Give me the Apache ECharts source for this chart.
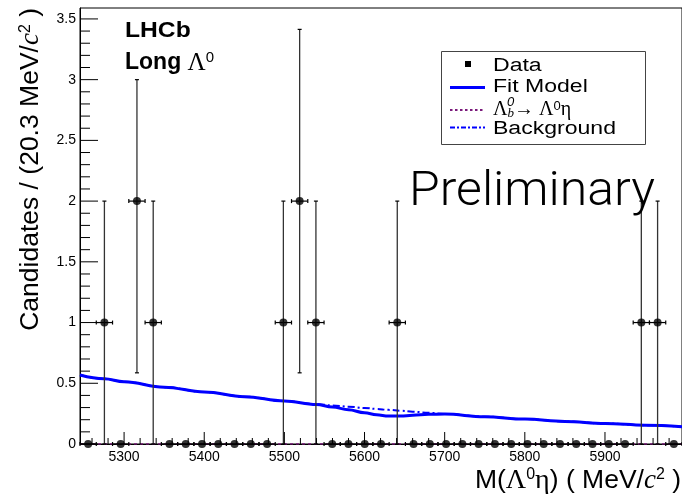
<!DOCTYPE html>
<html>
<head>
<meta charset="utf-8">
<script src="https://cdn.jsdelivr.net/npm/echarts@6/dist/echarts.min.js"></script>
<style>
  html, body { margin: 0; padding: 0; background: #fff; }
  #chart { width: 682px; height: 497px; }
</style>
</head>
<body>
<div id="chart"></div>
<script>
// Histogram of M(Λ0η): bin centres (MeV/c2), 20.3 MeV/c2 bins from 5245
const binCenters = [
  5255.15, 5275.45, 5295.75, 5316.05, 5336.35, 5356.65, 5376.95, 5397.25,
  5417.55, 5437.85, 5458.15, 5478.45, 5498.75, 5519.05, 5539.35, 5559.65,
  5579.95, 5600.25, 5620.55, 5640.85, 5661.15, 5681.45, 5701.75, 5722.05,
  5742.35, 5762.65, 5782.95, 5803.25, 5823.55, 5843.85, 5864.15, 5884.45,
  5904.75, 5925.05, 5945.35, 5965.65, 5985.95
];
const binHalfWidth = 10.15;
const counts = [
  0, 1, 0, 2, 1, 0, 0, 0, 0, 0, 0, 0, 1, 2, 1, 0, 0, 0, 0, 1,
  0, 0, 0, 0, 0, 0, 0, 0, 0, 0, 0, 0, 0, 0, 1, 1, 0
];
const errLow = [
  0, 1, 0, 1.414, 1, 0, 0, 0, 0, 0, 0, 0, 1, 1.414, 1, 0, 0, 0, 0, 1,
  0, 0, 0, 0, 0, 0, 0, 0, 0, 0, 0, 0, 0, 0, 1, 1, 0
];
const errHigh = [
  0, 1, 0, 1, 1, 0, 0, 0, 0, 0, 0, 0, 1, 1.414, 1, 0, 0, 0, 0, 1,
  0, 0, 0, 0, 0, 0, 0, 0, 0, 0, 0, 0, 0, 0, 1, 1, 0
];

// Fit components sampled along the mass axis
const curveMass = [5245, 5275, 5300, 5350, 5400, 5450, 5500, 5540, 5560, 5580, 5600, 5615,
                   5630, 5645, 5660, 5680, 5700, 5750, 5800, 5850, 5900, 5950, 5996];
// Total fit model
const fitModel  = [0.568, 0.537, 0.513, 0.468, 0.428, 0.390, 0.354, 0.325, 0.305, 0.282, 0.258, 0.240,
                   0.231, 0.230, 0.236, 0.244, 0.246, 0.225, 0.205, 0.186, 0.169, 0.155, 0.143];
// Combinatorial background component
const bkgValues = [0.568, 0.537, 0.513, 0.468, 0.428, 0.390, 0.354, 0.328, 0.318, 0.307, 0.297, 0.289,
                   0.281, 0.274, 0.266, 0.257, 0.248, 0.225, 0.205, 0.186, 0.169, 0.155, 0.143];
// Λb0 → Λ0η signal component
const sigMass   = [5245, 5996];
const sigValues = [0, 0];

// Axis ranges and ticks
const massRange  = [5245, 5996.1];
const massTicks  = [5300, 5400, 5500, 5600, 5700, 5800, 5900];
const countRange = [0, 3.59];
const countTicks = [0, 0.5, 1, 1.5, 2, 2.5, 3, 3.5];

const massMinor = [];
for (let m = 5260; m < massRange[1]; m += 20) {
  if (m % 100 !== 0) massMinor.push(m);
}
const countMinor = [];
for (let k = 1; k * 0.1 < countRange[1]; k++) {
  if (k % 5 !== 0) countMinor.push(+(k * 0.1).toFixed(2));
}
// [value, axis (0 = mass, 1 = counts), tick length in px]
const tickMarks = []
  .concat(massTicks.map(v => [v, 0, 12]))
  .concat(massMinor.map(v => [v, 0, 6]))
  .concat(countTicks.map(v => [v, 1, 18]))
  .concat(countMinor.map(v => [v, 1, 10]));

const pair = (xs, ys) => xs.map((x, i) => [x, ys[i]]);
const SANS = '"Liberation Sans", Arial, Helvetica, sans-serif';
const SERIF = '"Liberation Serif", "Times New Roman", serif';

const chart = echarts.init(document.getElementById('chart'), null, { renderer: 'canvas' });

chart.setOption({
  animation: false,
  backgroundColor: '#fff',
  grid: {
    left: 80, top: 8, width: 604, height: 436,
    show: true, borderColor: '#000', borderWidth: 1, backgroundColor: 'transparent'
  },
  xAxis: {
    type: 'value',
    min: massRange[0], max: massRange[1],
    splitLine: { show: false },
    axisLine: { show: true, onZero: false, lineStyle: { color: '#000', width: 1 } },
    axisTick: { show: false },
    axisLabel: { show: true, customValues: massTicks, margin: 6,
                 formatter: v => String(v),
                 fontFamily: SANS, fontSize: 14, color: '#000' }
  },
  yAxis: {
    type: 'value',
    min: countRange[0], max: countRange[1],
    splitLine: { show: false },
    axisLine: { show: true, onZero: false, lineStyle: { color: '#000', width: 1 } },
    axisTick: { show: false },
    axisLabel: { show: true, customValues: countTicks, margin: 4,
                 formatter: v => String(v),
                 fontFamily: SANS, fontSize: 14, color: '#000' }
  },
  series: [
    {
      name: 'Background',
      type: 'line',
      data: pair(curveMass, bkgValues),
      smooth: 0.4, smoothMonotone: 'x',
      symbol: 'none',
      lineStyle: { color: '#0000ff', width: 2, type: [7, 3, 2, 3] },
      z: 2
    },
    {
      name: 'Fit Model',
      type: 'line',
      data: pair(curveMass, fitModel),
      smooth: 0.4, smoothMonotone: 'x',
      symbol: 'none',
      lineStyle: { color: '#0000ff', width: 3 },
      z: 3
    },
    {
      name: 'Signal',
      type: 'line',
      data: pair(sigMass, sigValues),
      symbol: 'none',
      lineStyle: { color: '#7b1a7b', width: 1.5, type: [3, 3] },
      z: 4
    },
    {
      name: 'Axis ticks',
      type: 'custom',
      silent: true,
      data: tickMarks,
      z: 8,
      renderItem: function (params, api) {
        const v = api.value(0), axis = api.value(1), len = api.value(2);
        const style = { stroke: '#000', lineWidth: 1 };
        if (axis === 0) {
          const p = api.coord([v, countRange[0]]);
          return { type: 'line', shape: { x1: p[0], y1: p[1], x2: p[0], y2: p[1] - len }, style: style };
        }
        const p = api.coord([massRange[0], v]);
        return { type: 'line', shape: { x1: p[0], y1: p[1], x2: p[0] + len, y2: p[1] }, style: style };
      }
    },
    {
      name: 'Data errors',
      type: 'custom',
      data: binCenters.map((x, i) => [x, counts[i], errLow[i], errHigh[i]]),
      z: 5,
      renderItem: function (params, api) {
        const x = api.value(0), y = api.value(1), lo = api.value(2), hi = api.value(3);
        const c = api.coord([x, y]);
        const l = api.coord([x - binHalfWidth, y]);
        const r = api.coord([x + binHalfWidth, y]);
        const hStyle = { stroke: '#000', lineWidth: 1.2 };
        const vStyle = { stroke: '#333', lineWidth: 1.3 };
        const kids = [
          { type: 'line', shape: { x1: l[0], y1: c[1], x2: r[0], y2: c[1] }, style: hStyle },
          { type: 'line', shape: { x1: l[0], y1: c[1] - 2, x2: l[0], y2: c[1] + 2 }, style: hStyle },
          { type: 'line', shape: { x1: r[0], y1: c[1] - 2, x2: r[0], y2: c[1] + 2 }, style: hStyle }
        ];
        if (hi > 0) {
          const t = api.coord([x, y + hi]);
          kids.push({ type: 'line', shape: { x1: c[0], y1: c[1], x2: t[0], y2: t[1] }, style: vStyle });
          kids.push({ type: 'line', shape: { x1: c[0] - 2, y1: t[1], x2: c[0] + 2, y2: t[1] }, style: hStyle });
        }
        if (lo > 0) {
          const b = api.coord([x, y - lo]);
          kids.push({ type: 'line', shape: { x1: c[0], y1: c[1], x2: b[0], y2: b[1] }, style: vStyle });
          kids.push({ type: 'line', shape: { x1: c[0] - 2, y1: b[1], x2: c[0] + 2, y2: b[1] }, style: hStyle });
        }
        return { type: 'group', children: kids };
      }
    },
    {
      name: 'Data',
      type: 'scatter',
      data: pair(binCenters, counts),
      symbol: 'circle',
      symbolSize: 8,
      itemStyle: { color: '#000' },
      z: 6
    }
  ],
  graphic: [
    // Experiment label
    {
      type: 'text', x: 125, y: 31, scaleX: 1.12, z: 10,
      style: { text: 'LHCb', font: 'bold 22px ' + SANS, fill: '#000',
               textVerticalAlign: 'middle', verticalAlign: 'middle' }
    },
    {
      type: 'text', x: 125, y: 63, z: 10,
      style: {
        text: '{b|Long }{g|Λ}{s|0}',
        textVerticalAlign: 'middle', verticalAlign: 'middle',
        rich: {
          b: { fontFamily: SANS, fontWeight: 'bold', fontSize: 23, fill: '#000' },
          g: { fontFamily: SERIF, fontSize: 25, fill: '#000' },
          s: { fontFamily: SANS, fontSize: 15, fill: '#000', verticalAlign: 'top' }
        }
      }
    },
    // Preliminary stamp
    {
      type: 'text', x: 409, y: 193, scaleX: 1.04, z: 10,
      style: { text: 'Preliminary', fontFamily: 'Roboto, ' + SANS, fontWeight: 300, fontSize: 48,
               fill: '#000', textVerticalAlign: 'middle', verticalAlign: 'middle' }
    },
    // Legend
    {
      type: 'rect', z: 10,
      shape: { x: 441.5, y: 51.5, width: 204, height: 93 },
      style: { fill: '#fff', stroke: '#444', lineWidth: 1 }
    },
    {
      type: 'rect', z: 11,
      shape: { x: 465, y: 61, width: 6, height: 6 },
      style: { fill: '#000' }
    },
    {
      type: 'line', z: 11,
      shape: { x1: 450, y1: 87.5, x2: 485, y2: 87.5 },
      style: { stroke: '#0000ff', lineWidth: 3 }
    },
    {
      type: 'line', z: 11,
      shape: { x1: 450, y1: 110, x2: 485, y2: 110 },
      style: { stroke: '#7b1a7b', lineWidth: 2, lineDash: [2.5, 2.5] }
    },
    {
      type: 'line', z: 11,
      shape: { x1: 450, y1: 127.5, x2: 485, y2: 127.5 },
      style: { stroke: '#0000ff', lineWidth: 2, lineDash: [5, 2, 2, 2] }
    },
    {
      type: 'text', x: 493, y: 66, scaleX: 1.28, z: 11,
      style: { text: 'Data', font: '18px ' + SANS, fill: '#000',
               textVerticalAlign: 'middle', verticalAlign: 'middle' }
    },
    {
      type: 'text', x: 493, y: 87, scaleX: 1.28, z: 11,
      style: { text: 'Fit Model', font: '18px ' + SANS, fill: '#000',
               textVerticalAlign: 'middle', verticalAlign: 'middle' }
    },
    {
      type: 'text', x: 493, y: 110, z: 11,
      style: {
        text: '{g|Λ}{sub|b}{g|→ Λ}{sup|0}{g|η}',
        textVerticalAlign: 'middle', verticalAlign: 'middle',
        rich: {
          g: { fontFamily: SERIF, fontSize: 20, fill: '#000' },
          sub: { fontFamily: SERIF, fontStyle: 'italic', fontSize: 13, fill: '#000', verticalAlign: 'bottom' },
          sup: { fontFamily: SANS, fontSize: 13, fill: '#000', verticalAlign: 'top' }
        }
      }
    },
    {
      type: 'text', x: 507, y: 102, z: 11,
      style: { text: '0', fontFamily: SANS, fontStyle: 'italic', fontSize: 13, fill: '#000',
               textVerticalAlign: 'middle', verticalAlign: 'middle' }
    },
    {
      type: 'text', x: 493, y: 129, scaleX: 1.28, z: 11,
      style: { text: 'Background', font: '18px ' + SANS, fill: '#000',
               textVerticalAlign: 'middle', verticalAlign: 'middle' }
    },
    // Axis titles
    {
      type: 'text', x: 31, y: 8, rotation: Math.PI / 2, z: 10,
      style: {
        text: '{t|Candidates / (20.3 MeV/}{i|c}{s|2}{t| )}',
        textAlign: 'right', align: 'right',
        textVerticalAlign: 'middle', verticalAlign: 'middle',
        rich: {
          t: { fontFamily: SANS, fontSize: 26.5, fill: '#000' },
          i: { fontFamily: SERIF, fontStyle: 'italic', fontSize: 27, fill: '#000' },
          s: { fontFamily: SANS, fontSize: 16, fill: '#000', verticalAlign: 'top' }
        }
      }
    },
    {
      type: 'text', x: 681, y: 481, z: 10,
      style: {
        text: '{t|M(}{g|Λ}{s|0}{g|η}{t|) ( MeV/}{i|c}{s|2}{t| )}',
        textAlign: 'right', align: 'right',
        textVerticalAlign: 'middle', verticalAlign: 'middle',
        rich: {
          t: { fontFamily: SANS, fontSize: 26.5, fill: '#000' },
          g: { fontFamily: SERIF, fontSize: 28, fill: '#000' },
          i: { fontFamily: SERIF, fontStyle: 'italic', fontSize: 27, fill: '#000' },
          s: { fontFamily: SANS, fontSize: 16, fill: '#000', verticalAlign: 'top' }
        }
      }
    }
  ]
});
</script>
</body>
</html>
